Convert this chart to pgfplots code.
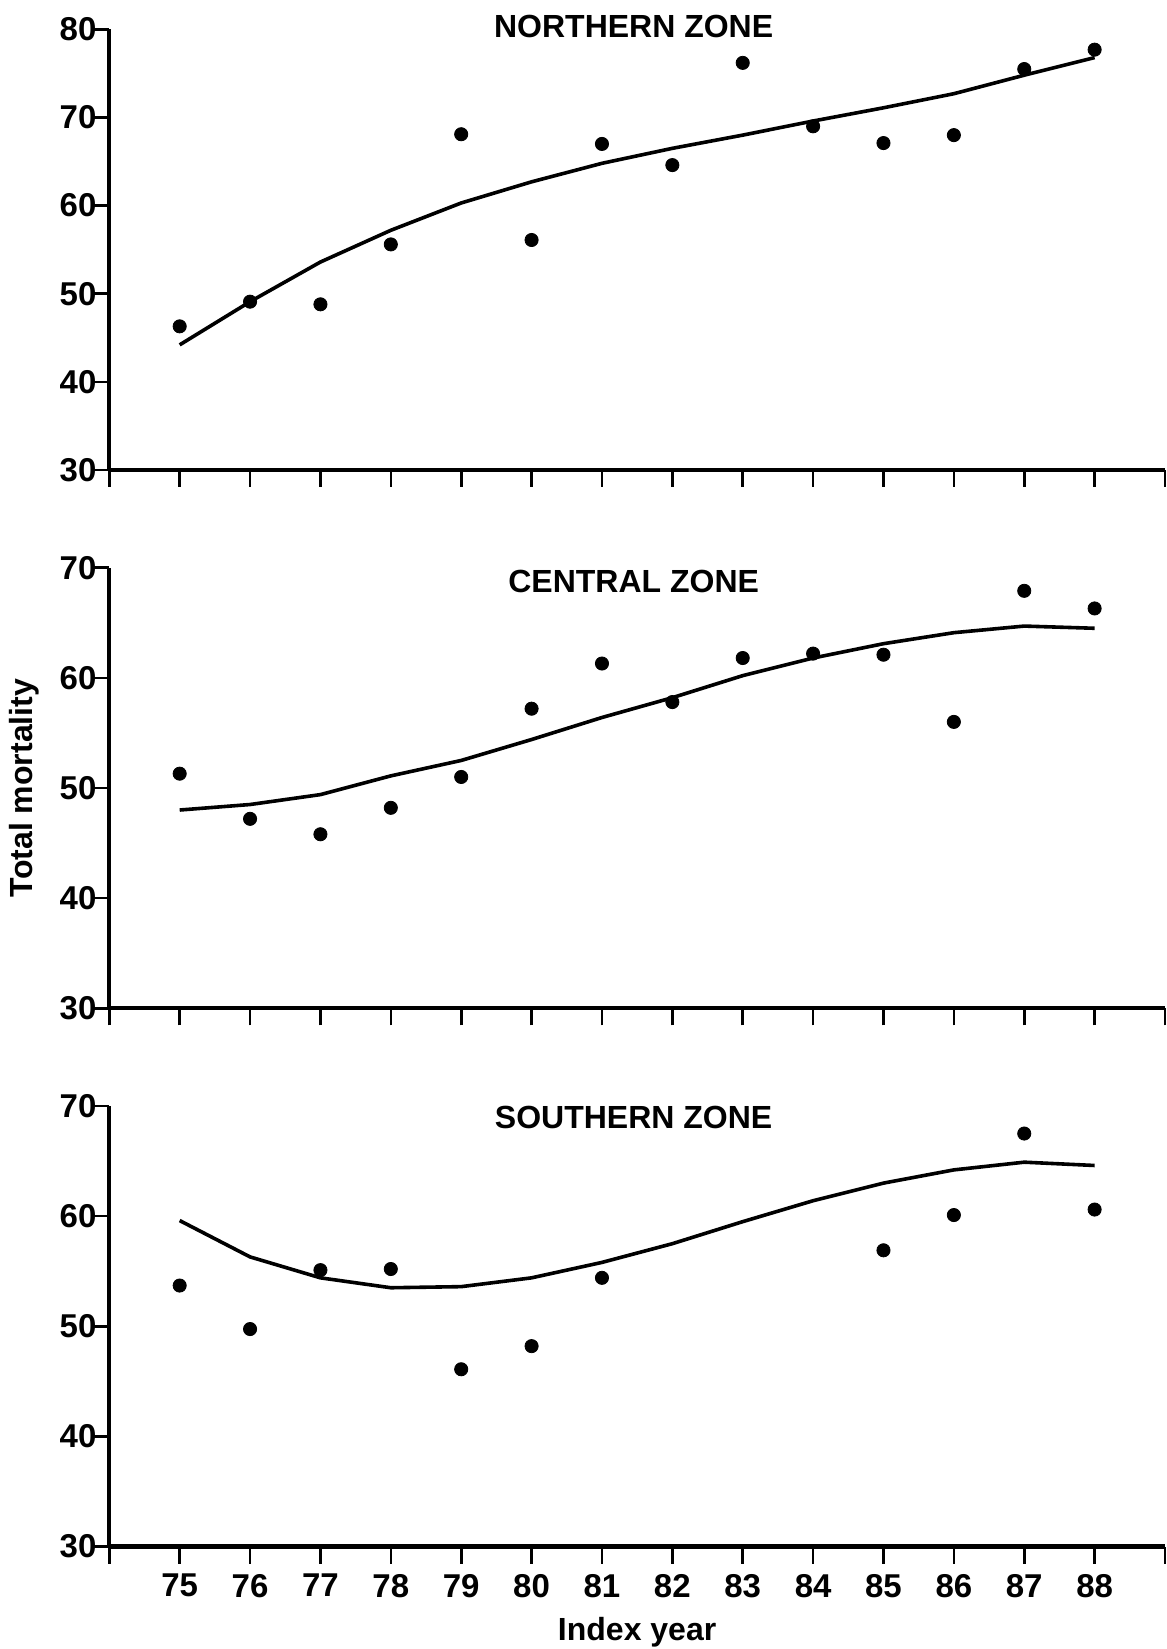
\documentclass[border=0pt]{standalone}
\usepackage{pgfplots}
\pgfplotsset{compat=1.18}
\usepackage{fontspec}
\setmainfont{Liberation Sans}
\pgfplotsset{
  panel/.style={
    scale only axis, width=527.85pt, height=220.3pt,
    xmin=74, xmax=89, ymin=30,
    axis x line*=bottom, axis y line*=left,
    axis line style={line width=2.1pt, -},
    tick align=outside,
    xtick={74,...,89},
    xticklabels={},
    ytick distance=10,
    xtick style={/pgfplots/major tick length=8.5pt, line width=1.3pt, black},
    ytick style={/pgfplots/major tick length=7.5pt, line width=1.3pt, black},
    /pgf/number format/assume math mode=true,
    ticklabel style={font=\fontsize{16.5}{16.5}\selectfont\bfseries},
    yticklabel style={inner sep=2pt},
    xticklabel style={yshift=-6pt},
    every axis title shift=0pt,
    title style={font=\fontsize{16}{16}\selectfont\bfseries, inner sep=0pt},
    label style={font=\fontsize{16}{16}\selectfont\bfseries},
    clip=false,
  },
  fit/.style={black, line width=1.8pt, line join=round, no marks},
  obs/.style={only marks, mark=*, mark size=3.3pt, black},
}
\begin{document}
\begin{tikzpicture}
\useasboundingbox (0,0) rectangle (583.5pt,824.5pt);
% Northern zone
\begin{axis}[panel, at={(54.65pt,589.5pt)}, anchor=south west, ymax=80,
  title={NORTHERN ZONE}, title style={at={(axis description cs:0.5,1)}, anchor=center, yshift=1.5pt, xshift=-1.75pt}]
\addplot[fit] coordinates {(75,44.2) (76,49.1) (77,53.6) (78,57.2) (79,60.3) (80,62.7) (81,64.8) (82,66.5) (83,68.0) (84,69.6) (85,71.1) (86,72.7) (87,74.8) (88,76.8)};
\addplot[obs] coordinates {(75,46.3) (76,49.1) (77,48.8) (78,55.6) (79,68.1) (80,56.1) (81,67.0) (82,64.6) (83,76.2) (84,69.0) (85,67.1) (86,68.0) (87,75.5) (88,77.7)};
\end{axis}
% Central zone
\begin{axis}[panel, at={(54.65pt,320.35pt)}, anchor=south west, ymax=70,
  title={CENTRAL ZONE}, title style={at={(axis description cs:0.5,1)}, anchor=center, yshift=-6.8pt, xshift=-1.75pt},
  ylabel={Total mortality}, ylabel style={at={(axis description cs:-0.081,0.5)}, rotate=0, anchor=center}]
\addplot[fit] coordinates {(75,48.0) (76,48.5) (77,49.4) (78,51.1) (79,52.5) (80,54.4) (81,56.4) (82,58.2) (83,60.2) (84,61.8) (85,63.1) (86,64.1) (87,64.7) (88,64.5)};
\addplot[obs] coordinates {(75,51.3) (76,47.2) (77,45.8) (78,48.2) (79,51.0) (80,57.2) (81,61.3) (82,57.8) (83,61.8) (84,62.2) (85,62.1) (86,56.0) (87,67.9) (88,66.3)};
\end{axis}
% Southern zone
\begin{axis}[panel, at={(54.65pt,51.2pt)}, anchor=south west, ymax=70,
  xticklabels={,75,76,77,78,79,80,81,82,83,84,85,86,87,88,},
  title={SOUTHERN ZONE}, title style={at={(axis description cs:0.5,1)}, anchor=center, yshift=-5.8pt, xshift=-1.75pt},
  xlabel={Index year}, xlabel style={at={(axis description cs:0.5,0)}, anchor=center, yshift=-43pt}]
\addplot[fit] coordinates {(75,59.6) (76,56.3) (77,54.4) (78,53.5) (79,53.6) (80,54.4) (81,55.8) (82,57.5) (83,59.5) (84,61.4) (85,63.0) (86,64.2) (87,64.9) (88,64.6)};
\addplot[obs] coordinates {(75,53.7) (76,49.75) (77,55.1) (78,55.2) (79,46.1) (80,48.2) (81,54.4) (85,56.9) (86,60.1) (87,67.5) (88,60.6)};
\end{axis}
\end{tikzpicture}
\end{document}
